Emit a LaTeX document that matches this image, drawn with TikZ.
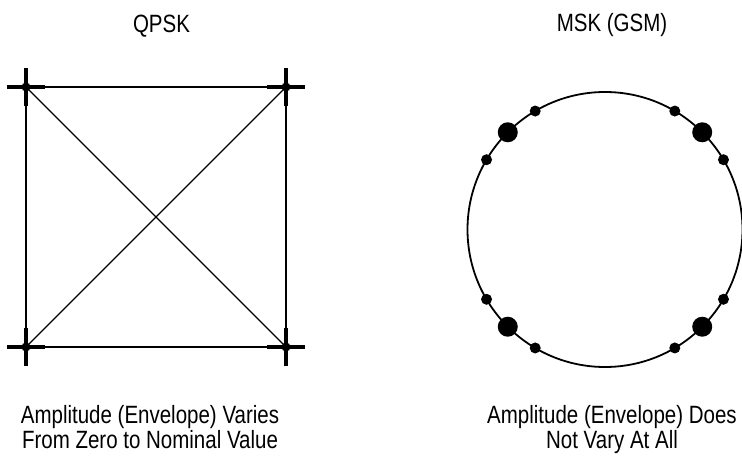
\documentclass[tikz,border=0pt]{standalone}
\usepackage{fontspec}
\setmainfont{Liberation Sans}[FakeStretch=0.82]
\usetikzlibrary{calc}
\begin{document}
\begin{tikzpicture}[x=1pt,y=-1pt,
  edge/.style={line width=1.3pt},
  bar/.style={line width=4pt},
  ring/.style={line width=1.8pt},
  bigdot/.style={circle,fill=black,inner sep=0pt,minimum size=20pt},
  smalldot/.style={circle,fill=black,inner sep=0pt,minimum size=11pt},
  lbl/.style={font=\fontsize{25}{25}\selectfont,anchor=base,inner sep=0pt}]
\useasboundingbox (0,0) rectangle (742,458);
% QPSK
\coordinate (TL) at (26,87);
\coordinate (TR) at (286,87);
\coordinate (BL) at (26,347);
\coordinate (BR) at (286,347);
\draw[edge] (TL) -- (TR) -- (BR) -- (BL) -- cycle;
\draw[edge] (TL) -- (BR);
\draw[edge] (TR) -- (BL);
\foreach \c in {TL,TR,BL,BR}{
  \draw[bar] ([xshift=-19pt]\c) -- ([xshift=19pt]\c);
  \draw[bar] ([yshift=-19pt]\c) -- ([yshift=19pt]\c);
  \fill (\c) circle[radius=4.5];
}
\node[lbl] (t1) at (161.5,32) {QPSK};
\node[lbl] (b1) at (150,423) {Amplitude (Envelope) Varies};
\node[lbl] (b2) at (150,448) {From Zero to Nominal Value};
% MSK
\coordinate (C) at (605,229.5);
\draw[ring] (C) circle[radius=137.5];
\foreach \a [count=\i] in {45,135,225,315}{
  \node[bigdot] (B\i) at ($(C)+(\a:137.5)$) {};
  \node[smalldot] (Sa\i) at ($(C)+(\a+14.5:137.5)$) {};
  \node[smalldot] (Sb\i) at ($(C)+(\a-14.5:137.5)$) {};
}
\node[lbl] (t2) at (612,31) {MSK (GSM)};
\node[lbl] (c1) at (612,423) {Amplitude (Envelope) Does};
\node[lbl] (c2) at (612,448) {Not Vary At All};
\end{tikzpicture}
\end{document}
